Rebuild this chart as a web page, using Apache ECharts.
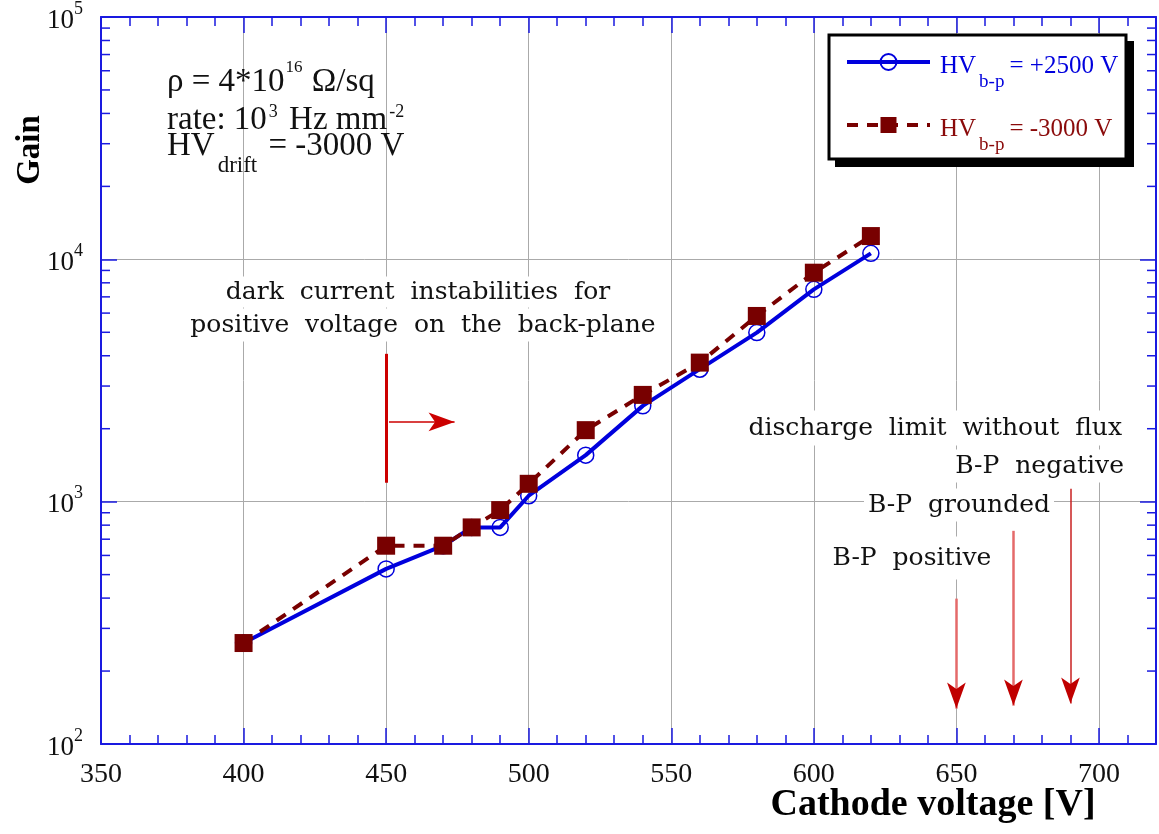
<!DOCTYPE html>
<html>
<head>
<meta charset="utf-8">
<script src="https://cdn.jsdelivr.net/npm/echarts@6/dist/echarts.min.js"></script>
<style>
html,body{margin:0;padding:0;background:#fff;}
#chart{width:1159px;height:834px;}
</style>
</head>
<body>
<div id="chart"></div>
<script>
// ---- data ----
const cathodeVoltage = [400, 450, 470, 480, 490, 500, 520, 540, 560, 580, 600, 620];
const gainPositiveBP = [261, 528, 658, 783, 783, 1058, 1556, 2485, 3521, 4984, 7520, 10585];
const gainNegativeBP = [261, 658, 658, 783, 923, 1185, 1973, 2758, 3748, 5839, 8808, 12474];
const seriesNames = ['HV b-p = +2500 V', 'HV b-p = -3000 V'];
const xTickLabels = ['350', '400', '450', '500', '550', '600', '650', '700'];
const yMinorTicks = [200, 300, 400, 500, 600, 700, 800, 900,
                     2000, 3000, 4000, 5000, 6000, 7000, 8000, 9000,
                     20000, 30000, 40000, 50000, 60000, 70000, 80000, 90000];
// annotation anchors (data coordinates)
const darkCurrentBar = { x: 450, yLow: 1197, yHigh: 4074 };
const darkCurrentArrow = { x1: 451, x2: 474, y: 2134 };
const dischargeLimits = [
  { x: 650, yStart: 398, yTip: 140, color: '#e46a6a', width: 2.5 },
  { x: 670, yStart: 758, yTip: 144, color: '#e46a6a', width: 2.5 },
  { x: 690, yStart: 1130, yTip: 147, color: '#c82020', width: 1.5 }
];

const XMIN = 350, XMAX = 720;
const SERIF = '"Liberation Serif", "DejaVu Serif", serif';
const BOOK = '"DejaVu Serif", "Liberation Serif", serif';
const AXIS_BLUE = '#1a1ae0';
const BLUE = '#0000dd';
const MAROON = '#780000';

const chart = echarts.init(document.getElementById('chart'), null, { renderer: 'canvas' });

const axisCommon = {
  axisLine: { show: true, onZero: false, lineStyle: { color: AXIS_BLUE, width: 2 } },
  axisTick: { show: true, inside: true, length: 16, lineStyle: { color: AXIS_BLUE, width: 1.5 } }
};

function legendText(color) {
  return {
    color: color,
    fontFamily: SERIF,
    fontSize: 25,
    rich: {
      h: { fontFamily: SERIF, fontSize: 25, color: color, lineHeight: 30, verticalAlign: 'top', padding: [7, 0, 0, 5] },
      a: { fontFamily: SERIF, fontSize: 25, color: color, lineHeight: 30, verticalAlign: 'top', padding: [7, 0, 0, 0] },
      s: { fontFamily: SERIF, fontSize: 19, color: color, lineHeight: 18, verticalAlign: 'top', padding: [26, 5, 0, 3] }
    }
  };
}

const option = {
  animation: false,
  backgroundColor: '#fff',
  grid: { left: 101, right: 2, top: 16, bottom: 90, containLabel: false },
  xAxis: [
    Object.assign({}, axisCommon, {
      type: 'value', min: XMIN, max: XMAX, interval: 50, position: 'bottom',
      axisLabel: {
        show: true, margin: 17, fontFamily: SERIF, fontSize: 28, color: '#111',
        formatter: v => xTickLabels.indexOf(String(v)) >= 0 ? String(v) : ''
      },
      minorTick: { show: true, splitNumber: 5, length: 9, lineStyle: { color: AXIS_BLUE, width: 1.5 } },
      splitLine: { show: true, lineStyle: { color: '#aaaaaa', width: 1 } }
    }),
    Object.assign({}, axisCommon, {
      type: 'value', min: XMIN, max: XMAX, interval: 50, position: 'top',
      axisLabel: { show: false },
      minorTick: { show: true, splitNumber: 5, length: 9, lineStyle: { color: AXIS_BLUE, width: 1.5 } },
      splitLine: { show: false }
    })
  ],
  yAxis: [
    Object.assign({}, axisCommon, {
      type: 'log', logBase: 10, min: 100, max: 100000, position: 'left',
      axisLabel: {
        show: true, margin: 18, color: '#111',
        formatter: v => '{b|10}{s|' + Math.round(Math.log10(v)) + '}',
        rich: {
          b: { fontFamily: SERIF, fontSize: 27, color: '#111', lineHeight: 34, verticalAlign: 'bottom' },
          s: { fontFamily: SERIF, fontSize: 18, color: '#111', lineHeight: 18, verticalAlign: 'top' }
        }
      },
      splitLine: { show: true, lineStyle: { color: '#aaaaaa', width: 1 } }
    }),
    Object.assign({}, axisCommon, {
      type: 'log', logBase: 10, min: 100, max: 100000, position: 'right',
      axisLabel: { show: false },
      splitLine: { show: false }
    })
  ],
  legend: {
    left: 845, top: 47, orient: 'vertical', z: 20,
    padding: 0, itemGap: 18, itemWidth: 83, itemHeight: 20,
    selectedMode: false,
    lineStyle: { width: 4 },
    data: [
      { name: seriesNames[0], textStyle: legendText(BLUE) },
      { name: seriesNames[1], textStyle: legendText('#8a0a0a') }
    ],
    formatter: name => {
      const rest = name.replace('HV b-p ', '');
      return '{h|HV}{s|b-p}{a|' + rest + '}';
    }
  },
  series: [
    {
      type: 'custom', name: 'minorTicksY', silent: true, z: 1,
      xAxisIndex: 0, yAxisIndex: 0,
      data: yMinorTicks.map(v => [XMIN, v]),
      renderItem: (params, api) => {
        const v = api.value(1);
        const pL = api.coord([XMIN, v]);
        const pR = api.coord([XMAX, v]);
        const st = { stroke: AXIS_BLUE, lineWidth: 1.5 };
        return {
          type: 'group', children: [
            { type: 'line', shape: { x1: pL[0], y1: pL[1], x2: pL[0] + 9, y2: pL[1] }, style: st },
            { type: 'line', shape: { x1: pR[0], y1: pR[1], x2: pR[0] - 9, y2: pR[1] }, style: st }
          ]
        };
      }
    },
    {
      name: seriesNames[0], type: 'line', z: 3,
      data: cathodeVoltage.map((x, i) => [x, gainPositiveBP[i]]),
      lineStyle: { color: BLUE, width: 4 },
      symbol: 'circle', symbolSize: 16,
      itemStyle: { color: 'rgba(255,255,255,0)', borderColor: BLUE, borderWidth: 1.5 }
    },
    {
      name: seriesNames[1], type: 'line', z: 4,
      data: cathodeVoltage.map((x, i) => [x, gainNegativeBP[i]]),
      lineStyle: { color: MAROON, width: 4, type: [11, 9] },
      symbol: 'rect', symbolSize: 18,
      itemStyle: { color: MAROON, borderWidth: 0 }
    },
    {
      name: 'annotations', type: 'line', data: [], z: 5, silent: true,
      markLine: {
        silent: true, animation: false,
        label: { show: false },
        emphasis: { disabled: true },
        data: [
          [
            { coord: [darkCurrentBar.x, darkCurrentBar.yLow], symbol: 'none', lineStyle: { color: '#cc0000', width: 3, type: 'solid' } },
            { coord: [darkCurrentBar.x, darkCurrentBar.yHigh], symbol: 'none' }
          ],
          [
            { coord: [darkCurrentArrow.x1, darkCurrentArrow.y], symbol: 'none', lineStyle: { color: '#cc0000', width: 1.5, type: 'solid' } },
            { coord: [darkCurrentArrow.x2, darkCurrentArrow.y], symbol: 'arrow', symbolSize: [14, 26] }
          ]
        ].concat(dischargeLimits.map(d => [
          { coord: [d.x, d.yStart], symbol: 'none', lineStyle: { color: d.color, width: d.width, type: 'solid' } },
          { coord: [d.x, d.yTip], symbol: 'none' }
        ]))
      },
      markPoint: {
        silent: true, animation: false,
        label: { show: false },
        data: dischargeLimits.map(d => ({
          coord: [d.x, d.yTip], symbol: 'arrow', symbolSize: [14, 26], symbolRotate: 180,
          symbolOffset: [0, 0], itemStyle: { color: '#c00000' }
        }))
      }
    }
  ],
  graphic: [
    // legend frame with drop shadow
    { type: 'rect', z: 15, shape: { x: 835, y: 41, width: 299, height: 126 }, style: { fill: '#000' } },
    { type: 'rect', z: 16, shape: { x: 829, y: 35, width: 297, height: 124 }, style: { fill: '#fff', stroke: '#000', lineWidth: 3 } },
    {
      type: 'text', x: 167, y: 79, z: 10,
      style: {
        text: '{a|ρ = 4*10}{u|16}{a| Ω/sq}', verticalAlign: 'middle',
        rich: {
          a: { fontFamily: SERIF, fontSize: 33, fill: '#111', lineHeight: 40, verticalAlign: 'bottom' },
          u: { fontFamily: SERIF, fontSize: 17, fill: '#111', lineHeight: 12, verticalAlign: 'top', padding: [0, 1, 0, 1] }
        }
      }
    },
    {
      type: 'text', x: 167, y: 120, z: 10,
      style: {
        text: '{a|rate: 10}{u|3}{a| Hz mm}{u|-2}', verticalAlign: 'middle',
        rich: {
          a: { fontFamily: SERIF, fontSize: 33, fill: '#111', lineHeight: 34, verticalAlign: 'bottom' },
          u: { fontFamily: SERIF, fontSize: 18, fill: '#111', lineHeight: 18, verticalAlign: 'top', padding: [0, 3, 0, 2] }
        }
      }
    },
    {
      type: 'text', x: 167, y: 130, z: 10,
      style: {
        text: '{a|HV}{d|drift}{a| = -3000 V}', verticalAlign: 'top',
        rich: {
          a: { fontFamily: SERIF, fontSize: 33, fill: '#111', lineHeight: 28, verticalAlign: 'top' },
          d: { fontFamily: SERIF, fontSize: 23, fill: '#111', lineHeight: 22, verticalAlign: 'top', padding: [24, 3, 0, 3] }
        }
      }
    },
    {
      type: 'text', x: 418, y: 292, z: 10,
      style: {
        text: 'dark  current  instabilities  for', fontFamily: BOOK, fontSize: 25, fill: '#111',
        align: 'center', verticalAlign: 'middle', backgroundColor: '#fff', padding: [6, 4, 0, 4]
      }
    },
    {
      type: 'text', x: 423, y: 325, z: 10,
      style: {
        text: 'positive  voltage  on  the  back-plane', fontFamily: BOOK, fontSize: 25, fill: '#111',
        align: 'center', verticalAlign: 'middle', backgroundColor: '#fff', padding: [0, 4, 8, 4]
      }
    },
    {
      type: 'text', x: 1126, y: 428, z: 10,
      style: {
        text: 'discharge  limit  without  flux', fontFamily: BOOK, fontSize: 25, fill: '#111',
        align: 'right', verticalAlign: 'middle', backgroundColor: '#fff', padding: [4, 4, 6, 4]
      }
    },
    {
      type: 'text', x: 1128, y: 466, z: 10,
      style: {
        text: 'B-P  negative', fontFamily: BOOK, fontSize: 25, fill: '#111',
        align: 'right', verticalAlign: 'middle', backgroundColor: '#fff', padding: [2, 4, 6, 4]
      }
    },
    {
      type: 'text', x: 959, y: 505, z: 10,
      style: {
        text: 'B-P  grounded', fontFamily: BOOK, fontSize: 25, fill: '#111',
        align: 'center', verticalAlign: 'middle', backgroundColor: '#fff', padding: [2, 4, 6, 4]
      }
    },
    {
      type: 'text', x: 912, y: 558, z: 10,
      style: {
        text: 'B-P  positive', fontFamily: BOOK, fontSize: 25, fill: '#111',
        align: 'center', verticalAlign: 'middle', backgroundColor: '#fff', padding: [4, 4, 14, 4]
      }
    },
    {
      type: 'text', x: 30, y: 150, rotation: Math.PI / 2, z: 10,
      style: {
        text: 'Gain', fontFamily: SERIF, fontSize: 33, fontWeight: 'bold', fill: '#000',
        align: 'center', verticalAlign: 'middle'
      }
    },
    {
      type: 'text', x: 933, y: 805, z: 10,
      style: {
        text: 'Cathode voltage [V]', fontFamily: SERIF, fontSize: 38, fontWeight: 'bold', fill: '#000',
        align: 'center', verticalAlign: 'middle'
      }
    }
  ]
};

chart.setOption(option);
</script>
</body>
</html>
